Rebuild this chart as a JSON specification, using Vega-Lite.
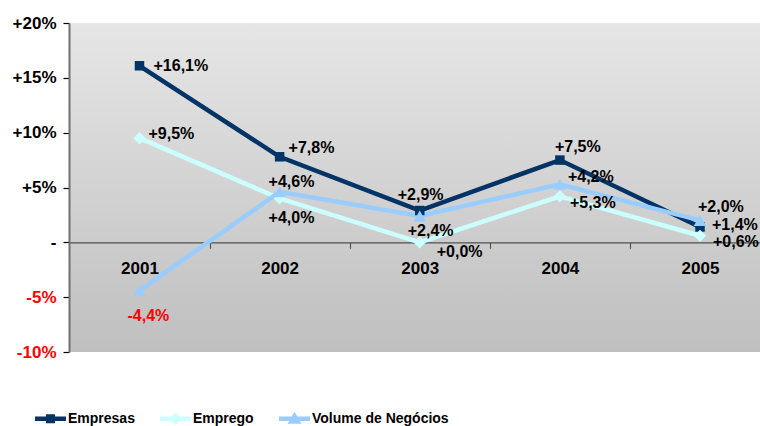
{
  "$schema": "https://vega.github.io/schema/vega-lite/v6.json",
  "width": 691,
  "height": 329,
  "autosize": "none",
  "padding": {"left": 69, "top": 23, "right": 0, "bottom": 74},
  "background": "white",
  "view": {
    "stroke": null,
    "fill": {"gradient": "linear", "x1": 0, "y1": 0, "x2": 0, "y2": 1,
      "stops": [{"offset": 0, "color": "#e6e6e6"}, {"offset": 1, "color": "#bfbfbf"}]}
  },
  "config": {
    "font": "Liberation Sans",
    "locale": {"number": {"decimal": ",", "thousands": ".", "grouping": [3], "currency": ["", " €"], "minus": "-"}}
  },
  "data": {"values": [
    {"series": "Empresas", "year": 2001, "value": 0.161},
    {"series": "Empresas", "year": 2002, "value": 0.078},
    {"series": "Empresas", "year": 2003, "value": 0.029},
    {"series": "Empresas", "year": 2004, "value": 0.075},
    {"series": "Empresas", "year": 2005, "value": 0.014},
    {"series": "Emprego", "year": 2001, "value": 0.095},
    {"series": "Emprego", "year": 2002, "value": 0.040},
    {"series": "Emprego", "year": 2003, "value": 0.000},
    {"series": "Emprego", "year": 2004, "value": 0.042},
    {"series": "Emprego", "year": 2005, "value": 0.006},
    {"series": "Volume de Negócios", "year": 2001, "value": -0.044},
    {"series": "Volume de Negócios", "year": 2002, "value": 0.046},
    {"series": "Volume de Negócios", "year": 2003, "value": 0.024},
    {"series": "Volume de Negócios", "year": 2004, "value": 0.053},
    {"series": "Volume de Negócios", "year": 2005, "value": 0.020}
  ]},
  "encoding": {
    "x": {
      "field": "year", "type": "quantitative",
      "scale": {"domain": [2000.497, 2005.428], "nice": false, "zero": false},
      "axis": {
        "title": null, "grid": false,
        "values": [2001, 2001.5, 2002, 2002.5, 2003, 2003.5, 2004, 2004.5, 2005],
        "labelExpr": "datum.value % 1 === 0 ? '' + datum.value : ''",
        "offset": -109.7,
        "domainColor": "#505050", "domainWidth": 1.2,
        "tickColor": "#505050", "tickSize": 6, "tickWidth": 1.2,
        "tickOpacity": {"condition": {"test": "datum.value % 1 === 0", "value": 0}, "value": 1},
        "labelFont": "Liberation Sans", "labelFontSize": 17, "labelFontWeight": "bold", "labelColor": "#000000",
        "labelPadding": 12, "labelFlush": false, "labelOverlap": false, "labelBaseline": "top"
      }
    },
    "y": {
      "field": "value", "type": "quantitative",
      "scale": {"domain": [-0.1, 0.2], "nice": false, "zero": false},
      "axis": {
        "title": null, "grid": false,
        "values": [-0.1, -0.05, 0, 0.05, 0.1, 0.15, 0.2],
        "format": "+.0%",
        "labelExpr": "datum.value == 0 ? '-' : datum.label",
        "domainColor": "#707070", "domainWidth": 2,
        "tickColor": "#000000", "tickSize": 6, "tickWidth": 1.2,
        "labelFont": "Liberation Sans", "labelFontSize": 17, "labelFontWeight": "bold",
        "labelColor": {"condition": {"test": "datum.value < 0", "value": "#ff0000"}, "value": "#000000"},
        "labelPadding": 7
      }
    }
  },
  "layer": [
    {
      "mark": {"type": "line", "strokeWidth": 4.5},
      "encoding": {
        "stroke": {"field": "series", "type": "nominal",
          "scale": {"domain": ["Empresas", "Emprego", "Volume de Negócios"], "range": ["#003366", "#ccffff", "#99ccff"]},
          "legend": {"title": null, "orient": "none", "legendX": -34, "legendY": 380, "direction": "horizontal",
            "labelFont": "Liberation Sans", "labelFontSize": 14, "labelFontWeight": "bold", "labelColor": "#000000",
            "symbolSize": 961, "symbolStrokeWidth": 0, "symbolOpacity": 1, "labelOffset": 2, "columnPadding": 25, "padding": 0}}
      }
    },
    {
      "transform": [{"filter": "datum.series === 'Empresas'"}],
      "mark": {"type": "point", "shape": "square", "filled": true, "opacity": 1, "size": 90, "color": "#003366"}
    },
    {
      "transform": [{"filter": "datum.series === 'Emprego'"}],
      "mark": {"type": "point", "shape": "diamond", "filled": true, "opacity": 1, "size": 150, "color": "#ccffff"}
    },
    {
      "transform": [{"filter": "datum.series === 'Volume de Negócios'"}],
      "mark": {"type": "point", "shape": "triangle-up", "filled": true, "opacity": 1, "size": 160, "color": "#99ccff"}
    },
    {
      "mark": {"type": "text", "align": "left", "baseline": "middle", "font": "Liberation Sans", "fontSize": 16, "fontWeight": "bold",
        "dx": {"expr": "({'Empresas2001':14,'Empresas2002':9,'Empresas2003':-22,'Empresas2004':-5,'Empresas2005':12,'Emprego2001':9,'Emprego2002':-11,'Emprego2003':17,'Emprego2004':8,'Emprego2005':13,'Volume de Negócios2001':-12,'Volume de Negócios2002':-11,'Volume de Negócios2003':-12,'Volume de Negócios2004':10,'Volume de Negócios2005':-2})[datum.series + datum.year]"},
        "dy": {"expr": "({'Empresas2001':0,'Empresas2002':-9,'Empresas2003':-16,'Empresas2004':-13,'Empresas2005':-2,'Emprego2001':-4,'Emprego2002':20,'Emprego2003':10,'Emprego2004':-19,'Emprego2005':6,'Volume de Negócios2001':25,'Volume de Negócios2002':-10,'Volume de Negócios2003':15,'Volume de Negócios2004':19,'Volume de Negócios2005':-13})[datum.series + datum.year]"}
      },
      "encoding": {
        "text": {"field": "value", "type": "quantitative", "format": "+.1%"},
        "color": {"condition": {"test": "datum.value < 0", "value": "#ff0000"}, "value": "#000000"}
      }
    },
    {
      "transform": [{"filter": "datum.year > 3000"}],
      "mark": {"type": "point", "filled": true, "strokeWidth": 0, "opacity": 1},
      "encoding": {
        "fill": {"field": "series", "type": "nominal",
          "scale": {"domain": ["Empresas", "Emprego", "Volume de Negócios"], "range": ["#003366", "#ccffff", "#99ccff"]},
          "legend": {"title": null, "orient": "none", "legendX": -34, "legendY": 380, "direction": "horizontal",
            "labelFont": "Liberation Sans", "labelFontSize": 14, "labelFontWeight": "bold", "labelColor": "#000000",
            "symbolSize": 961, "symbolStrokeWidth": 0, "symbolOpacity": 1, "labelOffset": 2, "columnPadding": 25, "padding": 0}},
        "shape": {"field": "series", "type": "nominal",
          "scale": {"domain": ["Empresas", "Emprego", "Volume de Negócios"],
            "range": ["M-1,-0.145H1V0.145H-1ZM-0.29,-0.29H0.29V0.29H-0.29Z", "M-1,-0.145H1V0.145H-1ZM0,-0.4L0.4,0L0,0.4L-0.4,0Z", "M-1,-0.145H1V0.145H-1ZM0,-0.45L0.45,0.33H-0.45Z"]},
          "legend": {"title": null, "orient": "none", "legendX": -34, "legendY": 380, "direction": "horizontal",
            "labelFont": "Liberation Sans", "labelFontSize": 14, "labelFontWeight": "bold", "labelColor": "#000000",
            "symbolSize": 961, "symbolStrokeWidth": 0, "symbolOpacity": 1, "labelOffset": 2, "columnPadding": 25, "padding": 0}}
      }
    }
  ]
}
